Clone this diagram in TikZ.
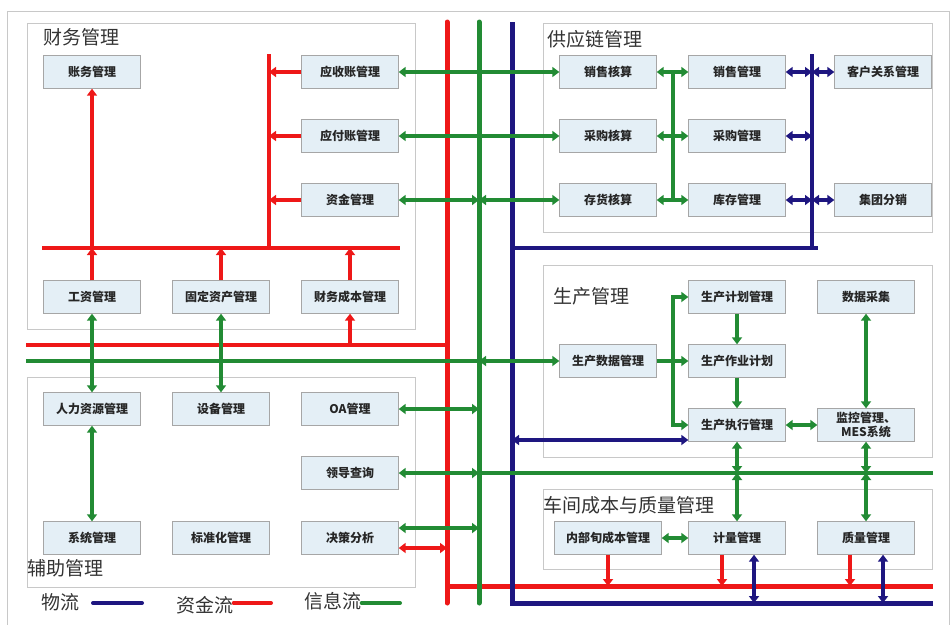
\documentclass[tikz,border=0pt]{standalone}
\usepackage{fontspec}
\setmainfont{Noto Sans CJK SC}
\usetikzlibrary{arrows.meta, positioning, calc}
\definecolor{infocolor}{RGB}{34,139,52}
\definecolor{moneycolor}{RGB}{238,24,24}
\definecolor{goodscolor}{RGB}{30,22,128}
\definecolor{boxcolor}{RGB}{228,239,246}
\definecolor{framecolor}{RGB}{200,200,200}

\begin{document}
\begin{tikzpicture}[
    x=1pt, y=-1pt,
    >={Triangle[length=7pt,width=10pt]},
    module/.style={draw=gray!70, fill=boxcolor, minimum width=97pt, minimum height=33pt, inner sep=1pt, text=black!85, font=\fontsize{12}{13}\selectfont\bfseries},
    group/.style={draw=framecolor, line width=0.8pt},
    grouptitle/.style={anchor=west, inner sep=0pt, text=black!80, font=\fontsize{19}{20}\selectfont},
    legend/.style={inner sep=0pt, text=black!80, font=\fontsize{19}{20}\selectfont},
    info/.style={infocolor, line width=3.5pt},
    money/.style={moneycolor, line width=3.5pt},
    goods/.style={goodscolor, line width=3.5pt},
    bus/.style={line width=5pt, line cap=round}
]
    \useasboundingbox (0,0) rectangle (952,624);

    % Frames
    \draw[framecolor] (7,11) rectangle (949,640);
    \draw[group] (27,23) rectangle (415,329);
    \draw[group] (27,377) rectangle (415,587);
    \draw[group] (543,23) rectangle (932,232);
    \draw[group] (543,265) rectangle (932,457);
    \draw[group] (543,489) rectangle (932,569);
    \node[grouptitle] (tcw) at (43,37) {财务管理};
    \node[grouptitle] (tgy) at (547,39) {供应链管理};
    \node[grouptitle] (tsc) at (553,296) {生产管理};
    \node[grouptitle] (tcj) at (543,505) {车间成本与质量管理};
    \node[grouptitle] (tfz) at (27,568) {辅助管理};

    % Nodes
    \node[module] (zhangwu) at (92,72) {账务管理};
    \node[module] (yingshou) at (350,72) {应收账管理};
    \node[module] (yingfu) at (350,136) {应付账管理};
    \node[module] (zijin) at (350,200) {资金管理};
    \node[module] (gongzi) at (92,297) {工资管理};
    \node[module] (guding) at (221,297) {固定资产管理};
    \node[module] (caiwucb) at (350,297) {财务成本管理};

    \node[module] (renli) at (92,409) {人力资源管理};
    \node[module] (shebei) at (221,409) {设备管理};
    \node[module] (oa) at (350,409) {OA管理};
    \node[module] (lingdao) at (350,473) {领导查询};
    \node[module] (xitong) at (92,538) {系统管理};
    \node[module] (biaozhun) at (221,538) {标准化管理};
    \node[module] (juece) at (350,538) {决策分析};

    \node[module] (xshs) at (608,72) {销售核算};
    \node[module] (cghs) at (608,136) {采购核算};
    \node[module] (chhs) at (608,200) {存货核算};
    \node[module] (xsgl) at (737,72) {销售管理};
    \node[module] (cggl) at (737,136) {采购管理};
    \node[module] (kcgl) at (737,200) {库存管理};
    \node[module] (kehu) at (883,72) {客户关系管理};
    \node[module] (jituan) at (883,200) {集团分销};

    \node[module] (jihua) at (737,297) {生产计划管理};
    \node[module] (caiji) at (866,297) {数据采集};
    \node[module] (scsj) at (608,361) {生产数据管理};
    \node[module] (zuoye) at (737,361) {生产作业计划};
    \node[module] (zhixing) at (737,425) {生产执行管理};
    \node[module, align=center, font=\fontsize{12}{14}\selectfont\bfseries] (jiankong) at (866,425) {监控管理、\\MES系统};

    \node[module, minimum width=107pt] (neibu) at (608,538) {内部旬成本管理};
    \node[module] (jiliang) at (737,538) {计量管理};
    \node[module] (zhiliang) at (866,538) {质量管理};

    % Bus coordinates
    \coordinate (redtop) at (447,22);
    \coordinate (redbot) at (447,603);
    \coordinate (redend) at (933,586);
    \coordinate (greentop) at (479,22);
    \coordinate (greenbot) at (479,603);
    \coordinate (bluetop) at (512,22);
    \coordinate (bluebot) at (512,603);
    \coordinate (blueend) at (933,603);
    \coordinate (finleft) at (42,248);
    \coordinate (finright) at (400,248);
    \coordinate (fintop) at (269,54);
    \coordinate (midred) at (26,345);
    \coordinate (midgreen) at (26,361);
    \coordinate (supblue) at (818,248);
    \coordinate (supbluetop) at (812,54);
    \coordinate (supgreen) at (673,0);
    \coordinate (infoend) at (933,473);
    \coordinate (bluein) at (512,440);

    % Buses
    \draw[bus, moneycolor] (redtop) -- (redbot);
    \draw[bus, moneycolor, line cap=butt] (redbot |- redend) -- (redend);
    \draw[bus, infocolor] (greentop) -- (greenbot);
    \draw[bus, goodscolor, line cap=butt] (bluetop) -- (bluebot) -- (blueend);
    \draw[money, line width=4pt] (finleft) -- (finright);
    \draw[money, line width=4pt] (fintop) -- (fintop |- finleft);
    \draw[money, line width=4pt] (midred) -- (midred -| redtop);
    \draw[info, line width=4pt] (midgreen) -- (midgreen -| greentop);
    \draw[goods, line width=4pt] (bluetop |- supblue) -- (supblue);
    \draw[goods, line width=4pt] (supbluetop) -- (supbluetop |- supblue);
    \draw[info, line width=4pt] (lingdao -| greentop) -- (infoend);

    % Finance
    \draw[money, ->] (yingshou) -- (yingshou -| fintop);
    \draw[money, ->] (yingfu) -- (yingfu -| fintop);
    \draw[money, ->] (zijin) -- (zijin -| fintop);
    \draw[money, ->] (gongzi) -- (gongzi |- finleft);
    \draw[money, ->] (gongzi |- finleft) -- (zhangwu);
    \draw[money, ->] (guding) -- (guding |- finleft);
    \draw[money, ->] (caiwucb) -- (caiwucb |- finleft);
    \draw[money, ->] (caiwucb |- midred) -- (caiwucb);
    \draw[info, <->] (gongzi) -- (renli);
    \draw[info, <->] (guding) -- (shebei);
    \draw[info, <->] (yingshou) -- (xshs);
    \draw[info, <->] (yingfu) -- (cghs);
    \draw[info, <->] (zijin) -- (zijin -| greentop);
    \draw[info, <->] (zijin -| greentop) -- (chhs);

    % Auxiliary
    \draw[info, <->] (renli) -- (xitong);
    \draw[info, <->] (oa) -- (oa -| greentop);
    \draw[info, <->] (lingdao) -- (lingdao -| greentop);
    \draw[info, <->] ([yshift=10pt]juece.east) -- ([yshift=10pt]juece.east -| greentop);
    \draw[money, <->] ([yshift=-10pt]juece.east) -- ([yshift=-10pt]juece.east -| redtop);

    % Supply chain
    \draw[info, <->] (xshs) -- (xsgl);
    \draw[info, <->] (cghs) -- (cggl);
    \draw[info, <->] (chhs) -- (kcgl);
    \draw[info] (xshs -| supgreen) -- (chhs -| supgreen);
    \draw[goods, <->] (xsgl) -- (xsgl -| supbluetop);
    \draw[goods, <->] (xsgl -| supbluetop) -- (kehu);
    \draw[goods, <->] (cggl) -- (cggl -| supbluetop);
    \draw[goods, <->] (kcgl) -- (kcgl -| supbluetop);
    \draw[goods, <->] (kcgl -| supbluetop) -- (jituan);

    % Production
    \draw[info, <->] (scsj -| greentop) -- (scsj);
    \draw[info, ->] (scsj) -- (zuoye);
    \draw[info, ->] (scsj -| supgreen) |- (jihua);
    \draw[info, ->] (scsj -| supgreen) |- (zhixing);
    \draw[info, ->] (jihua) -- (zuoye);
    \draw[info, ->] (zuoye) -- (zhixing);
    \draw[info, <->] (zhixing) -- (jiankong);
    \draw[info, <->] (caiji) -- (jiankong);
    \draw[goods, <->] (bluein) -- (bluein -| zhixing.west);

    % Workshop
    \draw[info, <->] (zhixing) -- (zhixing |- infoend);
    \draw[info, <->] (zhixing |- infoend) -- (jiliang);
    \draw[info, <->] (jiankong) -- (jiankong |- infoend);
    \draw[info, <->] (jiankong |- infoend) -- (zhiliang);
    \draw[info, <->] (neibu) -- (jiliang);
    \draw[money, ->] (neibu) -- (neibu |- redend);
    \draw[money, ->] ([xshift=-15pt]jiliang.south) -- ([xshift=-15pt]jiliang.south |- redend);
    \draw[money, ->] ([xshift=-16pt]zhiliang.south) -- ([xshift=-16pt]zhiliang.south |- redend);
    \draw[goods, <->] ([xshift=17pt]jiliang.south) -- ([xshift=17pt]jiliang.south |- blueend);
    \draw[goods, <->] ([xshift=17pt]zhiliang.south) -- ([xshift=17pt]zhiliang.south |- blueend);

    % Legend
    \node[legend] (lgwl) at (60,602) {物流};
    \node[legend] (lgzj) at (205,605) {资金流};
    \node[legend] (lgxx) at (333,601) {信息流};
    \coordinate (lgwla) at (93,603);
    \coordinate (lgwlb) at (142,603);
    \coordinate (lgzjb) at (271,603);
    \coordinate (lgxxb) at (400,603);
    \draw[goods, line width=4pt, line cap=round] (lgwla) -- (lgwlb);
    \draw[money, line width=4pt, line cap=round] (lgzj.east |- lgzjb) -- (lgzjb);
    \draw[info, line width=4pt, line cap=round] (lgxx.east |- lgxxb) -- (lgxxb);
\end{tikzpicture}
\end{document}
